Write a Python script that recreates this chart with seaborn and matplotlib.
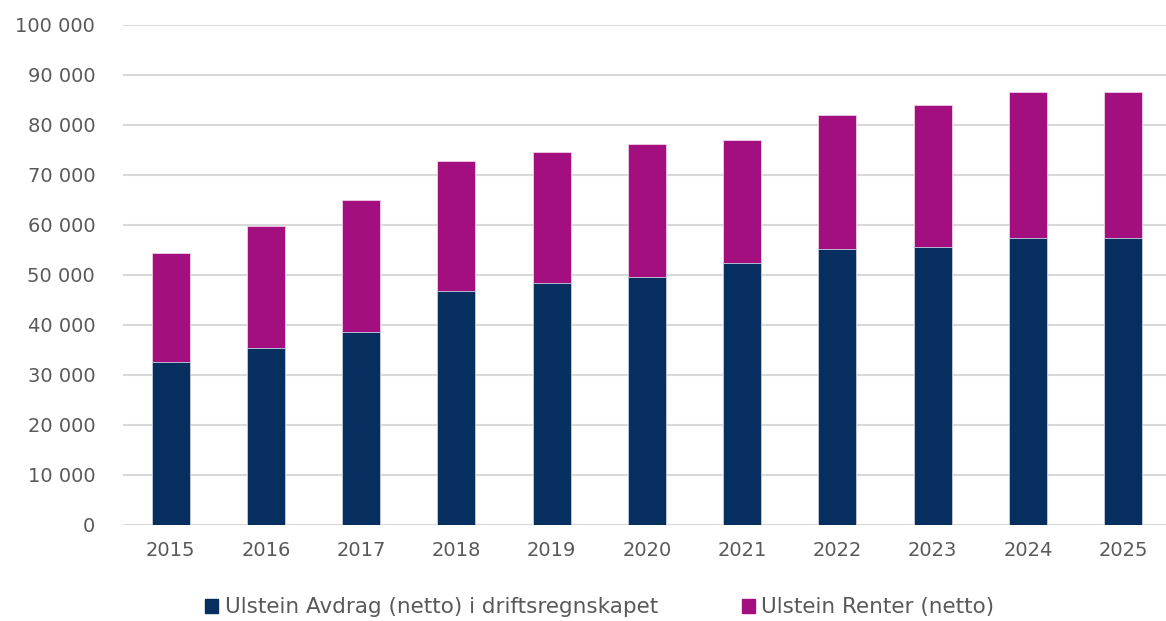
import numpy as np
import pandas as pd
import matplotlib
matplotlib.use("Agg")
import matplotlib.pyplot as plt
import seaborn as sns
from matplotlib.patches import Patch
from matplotlib.ticker import FuncFormatter, MultipleLocator

years = ["2015", "2016", "2017", "2018", "2019", "2020", "2021", "2022", "2023", "2024", "2025"]
avdrag = [32600, 35400, 38600, 46700, 48400, 49600, 52400, 55200, 55600, 57400, 57400]
renter = [21800, 24400, 26400, 26000, 26200, 26600, 24600, 26800, 28300, 29200, 29200]

navy = "#062f60"
magenta = "#a40f80"
grey = "#595959"

df = pd.DataFrame({"year": years, "avdrag": avdrag, "renter": renter})
df["total"] = df["avdrag"] + df["renter"]

sns.set_style("white")
plt.rcParams["font.family"] = ["DejaVu Sans"]

fig = plt.figure(figsize=(11.66, 6.21), dpi=100)
ax = fig.add_axes([123 / 1166, 96.5 / 621, 1 - 123 / 1166, 499.5 / 621])

# stacked look: total in magenta, avdrag drawn over it in navy
sns.barplot(data=df, x="year", y="total", color=magenta, width=0.4, ax=ax,
            saturation=1, edgecolor="#f0d0e8", linewidth=0.6, zorder=3)
sns.barplot(data=df, x="year", y="avdrag", color=navy, width=0.4, ax=ax,
            saturation=1, edgecolor="#c8d3e0", linewidth=0.6, zorder=4)

ax.set_ylim(0, 100000)
ax.set_xlim(-0.5, 10.45)
ax.yaxis.set_major_locator(MultipleLocator(10000))
ax.yaxis.set_major_formatter(FuncFormatter(lambda v, p: f"{int(v):,}".replace(",", " ")))
ax.grid(axis="y", color="#d9d9d9", linewidth=1.5, zorder=0)
ax.set_axisbelow(True)
for s in ax.spines.values():
    s.set_visible(False)
ax.tick_params(axis="both", length=0, labelsize=14, colors=grey)
ax.tick_params(axis="y", pad=20)
ax.tick_params(axis="x", pad=12)
ax.set_xlabel("")
ax.set_ylabel("")

handles = [Patch(color=navy, label="Ulstein Avdrag (netto) i driftsregnskapet"),
           Patch(color=magenta, label="Ulstein Renter (netto)")]
leg = fig.legend(handles=handles, loc="center", bbox_to_anchor=(0.5146, 0.022),
                 ncol=2, frameon=False, fontsize=15.5, handlelength=0.6, handleheight=0.6,
                 handletextpad=0.3, columnspacing=3.9)
for t in leg.get_texts():
    t.set_color(grey)

fig.savefig("out.png", dpi=100)
